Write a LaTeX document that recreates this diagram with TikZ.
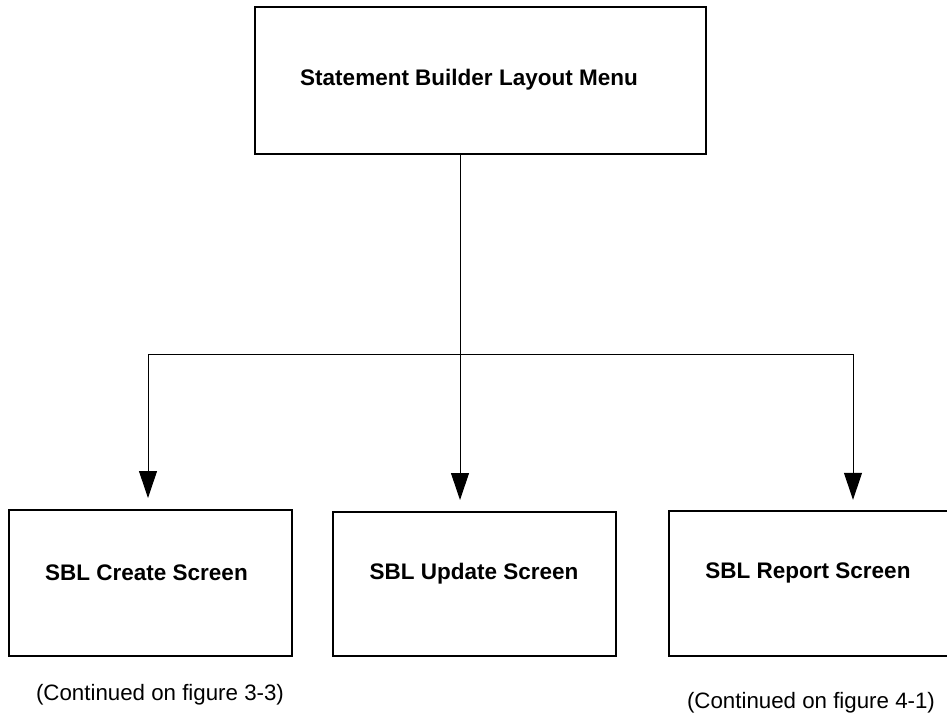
\documentclass[tikz,border=0pt]{standalone}
\usepackage{fontspec}
\setmainfont{Liberation Sans}
\usetikzlibrary{arrows.meta}
\begin{document}
\begin{tikzpicture}[x=1pt,y=-1pt,
  box/.style={draw,line width=2pt,rectangle,inner sep=0pt},
  openbox/.style={rectangle,inner sep=0pt},
  conn/.style={line width=1pt},
  arr/.style={conn,-{Triangle[length=27pt,width=18pt]},shorten >=11pt},
  lbl/.style={font=\fontsize{22.5}{26}\selectfont\bfseries},
  note/.style={font=\fontsize{22.3}{26}\selectfont}]
\useasboundingbox (0,0) rectangle (947,720);
\coordinate (edge) at (947,0);
\node[box,minimum width=451pt,minimum height=147pt] (top) at (480.5,80.5) {};
\node[lbl] (toptxt) at (469,80) {Statement Builder Layout Menu};
\node[box,minimum width=283pt,minimum height=146pt] (b1) at (150.5,583) {};
\node[box,minimum width=283pt,minimum height=144pt] (b2) at (474.5,584) {};
\node[openbox,minimum width=278pt,minimum height=145pt] (b3) at (808,583.5) {};
\draw[line width=2pt] (b3.north -| edge) -- (b3.north west) -- (b3.south west) -- (b3.south -| edge);
\node[lbl] (t1) at (146.5,573) {SBL Create Screen};
\node[lbl] (t2) at (474,574) {SBL Update Screen};
\node[lbl] (t3) at (808,573) {SBL Report Screen};
\node[note] (n1) at (160,695) {(Continued on figure 3-3)};
\node[note] (n3) at (811,703) {(Continued on figure 4-1)};
\coordinate (j) at (460,354);
\coordinate (jl) at (148,354);
\coordinate (jr) at (853,354);
\draw[conn] (top.south -| j) -- (j);
\draw[conn] (jl) -- (jr);
\draw[arr] (jl) -- (jl |- b1.north);
\draw[arr] (j) -- (j |- b2.north);
\draw[arr] (jr) -- (jr |- b3.north);
\end{tikzpicture}
\end{document}
